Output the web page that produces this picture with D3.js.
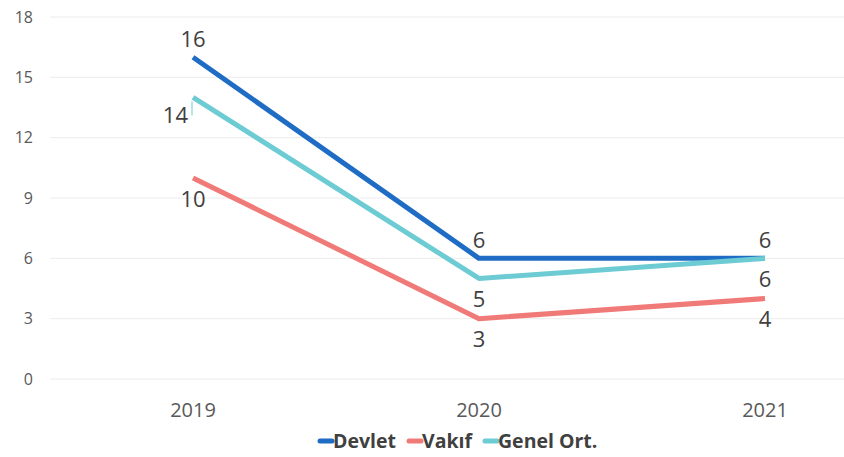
<!DOCTYPE html>
<html><head><meta charset="utf-8">
<script src="https://cdn.jsdelivr.net/npm/d3@7"></script>
<style>body{margin:0;background:#fff}svg{display:block}</style>
</head><body>
<svg id="c" width="844" height="457"></svg>
<script>
const categories = ["2019","2020","2021"];
const devlet = [16, 6, 6];
const vakif = [10, 3, 4];
const genel = [14, 5, 6];
const yTicks = [0,3,6,9,12,15,18];
const seriesNames = ["Devlet","Vakıf","Genel Ort."];

const svg = d3.select("#c");
const font = "'Open Sans', 'DejaVu Sans', sans-serif";
const x = d3.scalePoint().domain(categories).range([193, 765]);
const y = d3.scaleLinear().domain([0,18]).range([379, 17]);

// grid
svg.append("g").selectAll("line").data(yTicks).join("line")
  .attr("x1", 50).attr("x2", 844)
  .attr("y1", d=>y(d)).attr("y2", d=>y(d))
  .attr("stroke", "#ececec").attr("stroke-width", 1);

// y labels
svg.append("g").selectAll("text").data(yTicks).join("text")
  .attr("x", 33).attr("y", d=>y(d)).attr("dy","0.35em")
  .attr("text-anchor","end").attr("font-family",font).attr("font-size",16)
  .attr("fill","#595959").text(d=>d);

// x labels
svg.append("g").selectAll("text").data(categories).join("text")
  .attr("x", d=>x(d)).attr("y", 410).attr("dy","0.35em")
  .attr("text-anchor","middle").attr("font-family",font).attr("font-size",20)
  .attr("fill","#595959").text(d=>d);

const series = [
  {name: seriesNames[0], values: devlet, color: "#1f6cc4", pos: ["above","above","above"]},
  {name: seriesNames[1], values: vakif, color: "#f07a78", pos: ["below","below","below"]},
  {name: seriesNames[2], values: genel, color: "#6ccbd3", pos: ["left","below","below"]}
];

const line = d3.line().x((d,i)=>x(categories[i])).y(d=>y(d));
[series[1], series[0], series[2]].forEach(s=>{
  svg.append("path").datum(s.values).attr("d", line)
    .attr("fill","none").attr("stroke", s.color).attr("stroke-width", 5)
    .attr("stroke-linejoin","round");
});

// labels
series.forEach(s=>{
  s.values.forEach((v,i)=>{
    let lx = x(categories[i]), ly = y(v), anchor="middle";
    if (s.pos[i]==="above") ly -= 18;
    else if (s.pos[i]==="below") ly += 21;
    else { lx -= 5; ly += 18; anchor="end"; }
    svg.append("text").attr("x", lx).attr("y", ly).attr("dy","0.35em")
      .attr("text-anchor", anchor).attr("font-family", font).attr("font-size", 22)
      .attr("fill","#404040").text(v);
  });
});

// leader tick for 14
svg.append("line").attr("x1", x("2019")-1).attr("x2", x("2019")-1)
  .attr("y1", y(14)+4).attr("y2", y(14)+18).attr("stroke","#6ccbd3").attr("stroke-width",1);

// legend
const legend = [
  {name: seriesNames[0], color: "#1f6cc4", x: 320},
  {name: seriesNames[1], color: "#f07a78", x: 409},
  {name: seriesNames[2], color: "#6ccbd3", x: 485}
];
legend.forEach(l=>{
  svg.append("line").attr("x1", l.x).attr("x2", l.x+12).attr("y1", 441).attr("y2", 441)
    .attr("stroke", l.color).attr("stroke-width", 5).attr("stroke-linecap","round");
  svg.append("text").attr("x", l.x+13).attr("y", 441).attr("dy","0.35em")
    .attr("font-family", font).attr("font-size", 19.5).attr("font-weight","bold")
    .attr("fill","#404040").text(l.name);
});
</script>
</body></html>
